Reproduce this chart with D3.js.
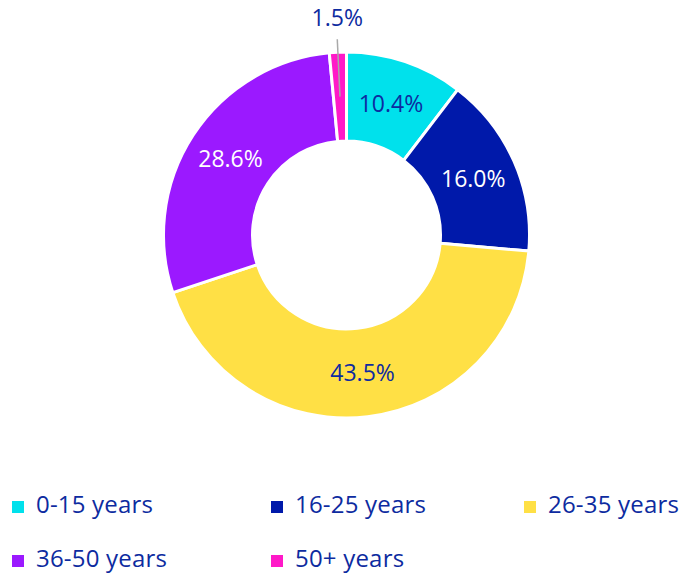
<!DOCTYPE html>
<html>
<head>
<meta charset="utf-8">
<script src="https://cdn.jsdelivr.net/npm/d3@7"></script>
<style>
  body { margin: 0; background: #fff; }
  text { font-family: "Open Sans", sans-serif; }
</style>
</head>
<body>
<div id="chart"></div>
<script>
// age groups and their share
const categories = ["0-15 years", "16-25 years", "26-35 years", "36-50 years", "50+ years"];
const values = [10.4, 16.0, 43.5, 28.6, 1.5];
const colours = ["#00e1ec", "#0019aa", "#ffe045", "#9b19ff", "#ff19c8"];
const labelColours = ["#0d2ba0", "#ffffff", "#0d2ba0", "#ffffff", "#0d2ba0"];

var width = 688, height = 575,
    cx = 346.5, cy = 235,
    outerR = 183, innerR = 94, labelR = 138.5;

const svg = d3.select("#chart").append("svg")
  .attr("width", width)
  .attr("height", height);

const data = categories.map((c, i) => ({ name: c, value: values[i], colour: colours[i], lc: labelColours[i] }));

let pie = d3.pie().sort(null).value(d => d.value);
let arc = d3.arc().innerRadius(innerR).outerRadius(outerR);
let labelArc = d3.arc().innerRadius(labelR).outerRadius(labelR);

const g = svg.append("g").attr("transform", `translate(${cx},${cy})`);
const arcs = pie(data);

g.selectAll("path.slice")
  .data(arcs)
  .enter()
  .append("path")
  .attr("class", "slice")
  .attr("d", arc)
  .style("fill", d => d.data.colour)
  .style("stroke", "#fff")
  .style("stroke-width", 3)
  .style("stroke-linejoin", "round");

// labels inside the big slices, small ones get a leader line
g.selectAll("text.label")
  .data(arcs)
  .enter()
  .append("text")
  .attr("class", "label")
  .each(function(d) {
    let c = labelArc.centroid(d);
    let small = (d.endAngle - d.startAngle) < 0.2;
    let el = d3.select(this);
    if (small) {
      let a = (d.startAngle + d.endAngle) / 2;
      let outer = [Math.sin(a) * (outerR + 13), -Math.cos(a) * (outerR + 13)];
      g.insert("line", "text")
        .attr("x1", c[0]).attr("y1", c[1])
        .attr("x2", outer[0]).attr("y2", outer[1])
        .style("stroke", "#a9a9a9")
        .style("stroke-width", 1.5);
      el.attr("x", outer[0]).attr("y", outer[1] - 13);
    } else {
      el.attr("x", c[0]).attr("y", c[1]).attr("dy", "0.35em");
    }
  })
  .style("text-anchor", "middle")
  .style("font-size", "23px")
  .style("fill", d => d.data.lc)
  .text(d => d3.format(".1f")(d.data.value) + "%");

// legend
const legendX = [12, 271, 524];
const legendY = [513, 567];
const legend = svg.selectAll("g.legend")
  .data(data)
  .enter()
  .append("g")
  .attr("class", "legend")
  .attr("transform", (d, i) => `translate(${legendX[i % 3]},${legendY[Math.floor(i / 3)]})`);

legend.append("rect")
  .attr("x", 0).attr("y", -12)
  .attr("width", 12).attr("height", 12)
  .style("fill", d => d.colour);

legend.append("text")
  .attr("x", 24)
  .style("font-size", "24px")
  .style("letter-spacing", "0.2px")
  .style("fill", "#0d2ba0")
  .text(d => d.name);
</script>
</body>
</html>
